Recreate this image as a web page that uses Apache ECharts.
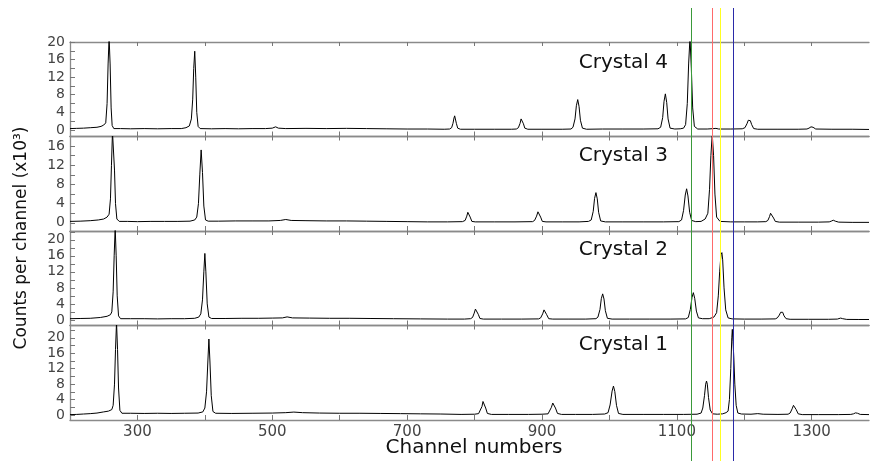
<!DOCTYPE html>
<html><head><meta charset="utf-8">
<script src="https://cdn.jsdelivr.net/npm/echarts@6/dist/echarts.min.js"></script>
<style>html,body{margin:0;padding:0;background:#fff}#c{width:871px;height:461px}</style>
</head><body><div id="c"></div>
<script>
// ---------- data ----------
const xMin = 200, xMax = 1385;
const xTickValues = [300, 400, 500, 600, 700, 800, 900, 1000, 1100, 1200, 1300];
const xLabelValues = [300, 500, 700, 900, 1100, 1300];
const crystalNames = ['Crystal 4', 'Crystal 3', 'Crystal 2', 'Crystal 1'];
const yRanges = [[-1.5, 20], [-1.7, 18], [-1.4, 22.2], [-1.3, 23.2]];
const yTicks = [
  [0, 2, 4, 6, 8, 10, 12, 14, 16, 18, 20],
  [0, 2, 4, 6, 8, 10, 12, 14, 16],
  [0, 2, 4, 6, 8, 10, 12, 14, 16, 18, 20, 22],
  [0, 2, 4, 6, 8, 10, 12, 14, 16, 18, 20, 22]
];
const yLabels = [
  [0, 4, 8, 12, 16, 20],
  [0, 4, 8, 12, 16],
  [0, 4, 8, 12, 16, 20],
  [0, 4, 8, 12, 16, 20]
];
const markerChannels = [1122, 1152, 1164, 1183];
const markerColors = ['#3a9a3a', '#ff6a6a', '#ffff20', '#2a2aa8'];

const crystal4 = [
  [200,0.3],[210,0.35],[220,0.4],[230,0.5],[240,0.6],[246,0.8],[250,1.1],
  [253,1.6],[255,6],[256.5,15],[258,21],[259.5,15],[261,5],[262.5,1],[265,0.3],
  [275,0.3],[290,0.25],[310,0.3],[330,0.25],[350,0.3],[365,0.3],[372,0.5],[377,0.9],
  [380,2.5],[382,7],[383.5,14],[385,17.9],[386.5,12],[388,4],[390,0.8],[393,0.3],
  [410,0.25],[430,0.3],[450,0.25],[470,0.3],[490,0.3],[500,0.4],[505,0.7],[509,0.4],[520,0.3],
  [550,0.35],[580,0.3],[610,0.35],[640,0.3],[670,0.25],[700,0.2],[730,0.2],[755,0.15],[763,0.2],
  [766,0.5],[768,1.5],[769.5,2.7],[770.5,3.2],[771.5,2.8],[773,1.5],[775,0.4],[779,0.15],
  [800,0.15],[830,0.15],[855,0.15],[862,0.2],
  [865,0.5],[867.5,1.5],[869,2.5],[870,2.9],[871,2.6],[872.5,1.4],[874.5,0.4],[879,0.15],
  [900,0.15],[930,0.15],[943,0.2],
  [946,0.6],[949,2.5],[951,5.5],[953,6.9],[955,5.3],[957,2.2],[960,0.4],[966,0.15],
  [990,0.2],[1020,0.2],[1050,0.2],[1072,0.25],
  [1076,0.6],[1079,2.8],[1081,6.5],[1083,8.2],[1085,6.2],[1087,2.5],[1090,0.4],[1097,0.2],
  [1105,0.25],[1110,0.4],
  [1113,1.2],[1115.5,6],[1117.5,15],[1119.5,21],[1121.5,14],[1123.5,5],[1126,0.8],[1131,0.2],
  [1145,0.2],[1155,0.3],[1158,0.35],[1162,0.2],[1180,0.2],[1197,0.25],
  [1201,0.5],[1204,1.4],[1206,2.2],[1207.5,2.4],[1209,2.1],[1211,1.2],[1214,0.3],[1220,0.15],
  [1250,0.15],[1280,0.15],[1293,0.2],
  [1296,0.4],[1299,0.7],[1302,0.6],[1306,0.2],
  [1330,0.15],[1360,0.15],[1385,0.1]
];
const crystal3 = [
  [200,0.3],[215,0.35],[230,0.45],[242,0.6],[250,0.8],[255,1.2],
  [258,1.8],[260,5],[261.5,12],[263,19],[264.5,19],[266,11],[267.5,4],[269.5,0.8],[273,0.3],
  [285,0.3],[300,0.25],[320,0.3],[340,0.3],[360,0.3],[378,0.35],[385,0.6],
  [388,1.2],[390.5,4],[392.5,10],[394.5,15.2],[396.5,10.5],[398.5,3.5],[401,0.6],[405,0.35],
  [420,0.35],[445,0.4],[470,0.4],[495,0.4],[512,0.5],[520,0.7],[528,0.5],[550,0.45],[580,0.4],
  [610,0.4],[640,0.35],[670,0.3],[700,0.25],[730,0.2],[760,0.2],[782,0.25],
  [786,0.5],[788.5,1.4],[790,2.2],[791,2.5],[792,2.2],[793.5,1.2],[796,0.3],[801,0.2],
  [830,0.2],[860,0.2],[886,0.25],
  [889,0.5],[892,1.4],[894,2.3],[895,2.5],[896,2.2],[898,1.2],[900.5,0.3],[906,0.2],
  [930,0.2],[955,0.2],[969,0.3],
  [973,0.6],[976,2.4],[978,5.1],[980,6.3],[982,5],[984,2.2],[987,0.4],[994,0.2],
  [1020,0.2],[1050,0.2],[1080,0.2],[1103,0.25],
  [1107,0.6],[1110,2.6],[1112.5,5.8],[1114.5,7.1],[1116.5,5.6],[1119,2.2],[1122,0.5],[1128,0.25],
  [1136,0.3],[1142,0.8],
  [1146,2],[1148.5,7],[1150.5,14],[1152.5,18.5],[1154.5,14],[1156.5,6],[1159,1.2],[1164,0.3],
  [1180,0.2],[1200,0.2],[1220,0.2],[1232,0.25],
  [1235,0.5],[1237.5,1.3],[1239,2.0],[1240,2.2],[1241.5,1.9],[1243.5,1],[1246,0.3],[1252,0.15],
  [1280,0.15],[1310,0.15],[1326,0.2],
  [1329,0.35],[1332,0.55],[1335,0.35],[1340,0.15],
  [1360,0.1],[1385,0.1]
];
const crystal2 = [
  [200,0.3],[215,0.35],[230,0.4],[245,0.6],[255,0.9],[260,1.3],
  [262,2],[264,7],[265.5,16],[267,23],[268.5,16],[270,6],[272,1],[275,0.3],
  [290,0.3],[310,0.3],[330,0.25],[350,0.3],[370,0.3],[385,0.4],[391,0.7],
  [394,1.5],[396.5,5],[398.5,12],[400,16.6],[401.5,12],[403.5,4],[406,0.7],[410,0.35],
  [430,0.35],[455,0.4],[480,0.4],[500,0.45],[515,0.5],[522,0.75],[530,0.5],[555,0.45],[585,0.4],
  [615,0.4],[645,0.35],[680,0.3],[720,0.25],[760,0.2],[785,0.2],[794,0.3],
  [797,0.6],[799.5,1.7],[801.3,2.7],[802.5,3.0],[803.7,2.6],[805.5,1.4],[808,0.35],[813,0.2],
  [840,0.2],[870,0.2],[895,0.25],
  [898,0.5],[901,1.5],[903,2.5],[904,2.75],[905,2.5],[907,1.3],[910,0.3],[916,0.2],
  [940,0.2],[965,0.2],[980,0.3],
  [983,0.7],[986,2.6],[988,5.3],[990,6.5],[992,5.2],[994,2.3],[997,0.4],[1004,0.2],
  [1030,0.2],[1060,0.2],[1090,0.2],[1113,0.25],
  [1117,0.6],[1120,2.6],[1122.5,5.6],[1124.5,6.8],[1126.5,5.4],[1129,2.2],[1132,0.5],[1138,0.3],
  [1148,0.3],[1155,0.7],
  [1159,1.8],[1161.5,6],[1163.5,12],[1165.5,16.3],[1166.8,16.8],[1168,15],[1170,8],[1172.5,2.5],[1176,0.5],[1182,0.25],
  [1200,0.2],[1225,0.2],[1246,0.25],
  [1249,0.5],[1252,1.2],[1254,1.9],[1255.5,2.1],[1257,1.9],[1259,1.0],[1262,0.3],[1268,0.15],
  [1295,0.15],[1325,0.15],[1338,0.2],
  [1340,0.3],[1343,0.45],[1346,0.3],[1352,0.12],
  [1370,0.1],[1385,0.1]
];
const crystal1 = [
  [200,0.1],[210,0.15],[220,0.25],[230,0.35],[240,0.5],[250,0.8],[257,1.0],[262,1.4],
  [264,2.5],[266,8],[267.5,17],[269,24],[270.5,17],[272,7],[274,1.2],[277,0.45],
  [290,0.45],[310,0.4],[330,0.45],[350,0.4],[370,0.45],[390,0.5],[397,0.8],
  [400,1.8],[402.5,6],[404.5,14],[406,19.7],[407.5,14],[409.5,5],[412,0.9],[416,0.45],
  [440,0.4],[470,0.45],[500,0.5],[520,0.6],[532,0.75],[545,0.6],[570,0.5],[600,0.45],[630,0.45],
  [660,0.4],[690,0.35],[720,0.3],[750,0.25],[780,0.15],[800,0.2],[806,0.35],
  [808.5,0.8],[811,2.2],[812.5,3.5],[813.5,3.9],[814.5,3.4],[816.5,1.8],[819,0.4],[825,0.15],
  [850,0.15],[880,0.15],[900,0.2],[909,0.3],
  [911,0.7],[914,2.0],[916,3.1],[917,3.4],[918,3.1],[920,1.8],[923,0.4],[929,0.15],
  [950,0.15],[975,0.15],[993,0.25],
  [998,0.6],[1001,2.6],[1004,6.2],[1006,7.5],[1008,6.1],[1010.5,2.5],[1013.5,0.4],[1020,0.15],
  [1050,0.15],[1080,0.15],[1110,0.15],[1130,0.2],[1136,0.5],
  [1138.5,1.8],[1141,5],[1142.8,8],[1144,8.8],[1145.2,8],[1147,4.5],[1149.5,1.3],[1153,0.3],
  [1160,0.2],[1168,0.3],[1173,0.6],
  [1176,1],[1178,4],[1180,12],[1181.5,20],[1182.3,22.2],[1183.3,19],[1184.5,15],[1186,8],[1188,2.5],[1190.5,0.5],[1196,0.25],
  [1210,0.2],[1220,0.35],[1228,0.2],[1250,0.15],[1265,0.2],
  [1268,0.5],[1271,1.6],[1273,2.5],[1274,2.7],[1275,2.5],[1277,1.4],[1280,0.3],[1286,0.1],
  [1310,0.1],[1340,0.1],[1358,0.15],
  [1362,0.3],[1365,0.55],[1368,0.45],[1372,0.15],
  [1385,0.1]
];
const spectra = [crystal4, crystal3, crystal2, crystal1];

// ---------- layout ----------
const panelTops = [42, 136.5, 231, 325.5];
const panelHeight = 94.5;
const gridLeft = 70, gridRight = 2;
const axisColor = '#8a8a8a';
const labelFont = 'DejaVu Sans';
const plain = v => String(v);

const grids = panelTops.map(t => ({left: gridLeft, right: gridRight, top: t, height: panelHeight}));
grids.push({left: gridLeft, right: gridRight, top: 8, bottom: 0});

const xAxes = [];
const yAxes = [];
const series = [];
spectra.forEach((data, i) => {
  const isLast = i === spectra.length - 1;
  xAxes.push({
    gridIndex: i, type: 'value', min: xMin, max: xMax, position: 'bottom',
    axisLine: {show: true, onZero: false, lineStyle: {color: axisColor, width: 1.3}},
    axisTick: {show: true, inside: true, length: 5, customValues: xTickValues, lineStyle: {color: '#777'}},
    axisLabel: {show: isLast, customValues: xLabelValues, formatter: plain, fontSize: 15, fontFamily: labelFont, color: '#444', margin: 5},
    splitLine: {show: false}
  });
  xAxes.push({
    gridIndex: i, type: 'value', min: xMin, max: xMax, position: 'top',
    axisLine: {show: true, onZero: false, lineStyle: {color: axisColor, width: 1.3}},
    axisTick: {show: true, inside: true, length: 4, customValues: xTickValues, lineStyle: {color: '#777'}},
    axisLabel: {show: false},
    splitLine: {show: false}
  });
  yAxes.push({
    gridIndex: i, type: 'value', min: yRanges[i][0], max: yRanges[i][1],
    axisLine: {show: true, onZero: false, lineStyle: {color: axisColor, width: 1.3}},
    axisTick: {show: true, inside: true, length: 5, customValues: yTicks[i], lineStyle: {color: '#777'}},
    axisLabel: {show: true, customValues: yLabels[i], formatter: plain, fontSize: 14, fontFamily: labelFont, color: '#444', margin: 5},
    splitLine: {show: false}
  });
  series.push({
    type: 'line', xAxisIndex: 2 * i, yAxisIndex: i, data: data,
    symbol: 'none', showSymbol: false, clip: true, animation: false,
    lineStyle: {color: '#000', width: 1}
  });
});
// overlay for vertical marker lines
xAxes.push({gridIndex: 4, type: 'value', min: xMin, max: xMax, show: false});
yAxes.push({gridIndex: 4, type: 'value', min: 0, max: 1, show: false});
series.push({
  type: 'line', xAxisIndex: 8, yAxisIndex: 4, data: [], symbol: 'none', z: 10, animation: false,
  markLine: {
    silent: true, symbol: 'none', animation: false, label: {show: false},
    data: markerChannels.map((v, k) => ({xAxis: v, lineStyle: {color: markerColors[k], width: 1, type: 'solid'}}))
  }
});

const labelCenters = [63, 156, 250, 345];
const graphics = crystalNames.map((name, i) => ({
  type: 'text', x: 668, y: labelCenters[i], z: 20,
  style: {text: name, fontSize: 20, fontFamily: labelFont, fill: '#111', align: 'right', verticalAlign: 'middle'}
}));
graphics.push({
  type: 'text', x: 474, y: 448,
  style: {text: 'Channel numbers', fontSize: 20, fontFamily: labelFont, fill: '#111', align: 'center', verticalAlign: 'middle'}
});
graphics.push({
  type: 'text', x: 22, y: 238, rotation: Math.PI / 2,
  style: {text: 'Counts per channel (x10³)', fontSize: 17, fontFamily: labelFont, fill: '#111', align: 'center', verticalAlign: 'middle'}
});

const chart = echarts.init(document.getElementById('c'), null, {renderer: 'canvas'});
chart.setOption({
  animation: false,
  backgroundColor: '#fff',
  grid: grids,
  xAxis: xAxes,
  yAxis: yAxes,
  series: series,
  graphic: graphics
});
</script>
</body></html>
